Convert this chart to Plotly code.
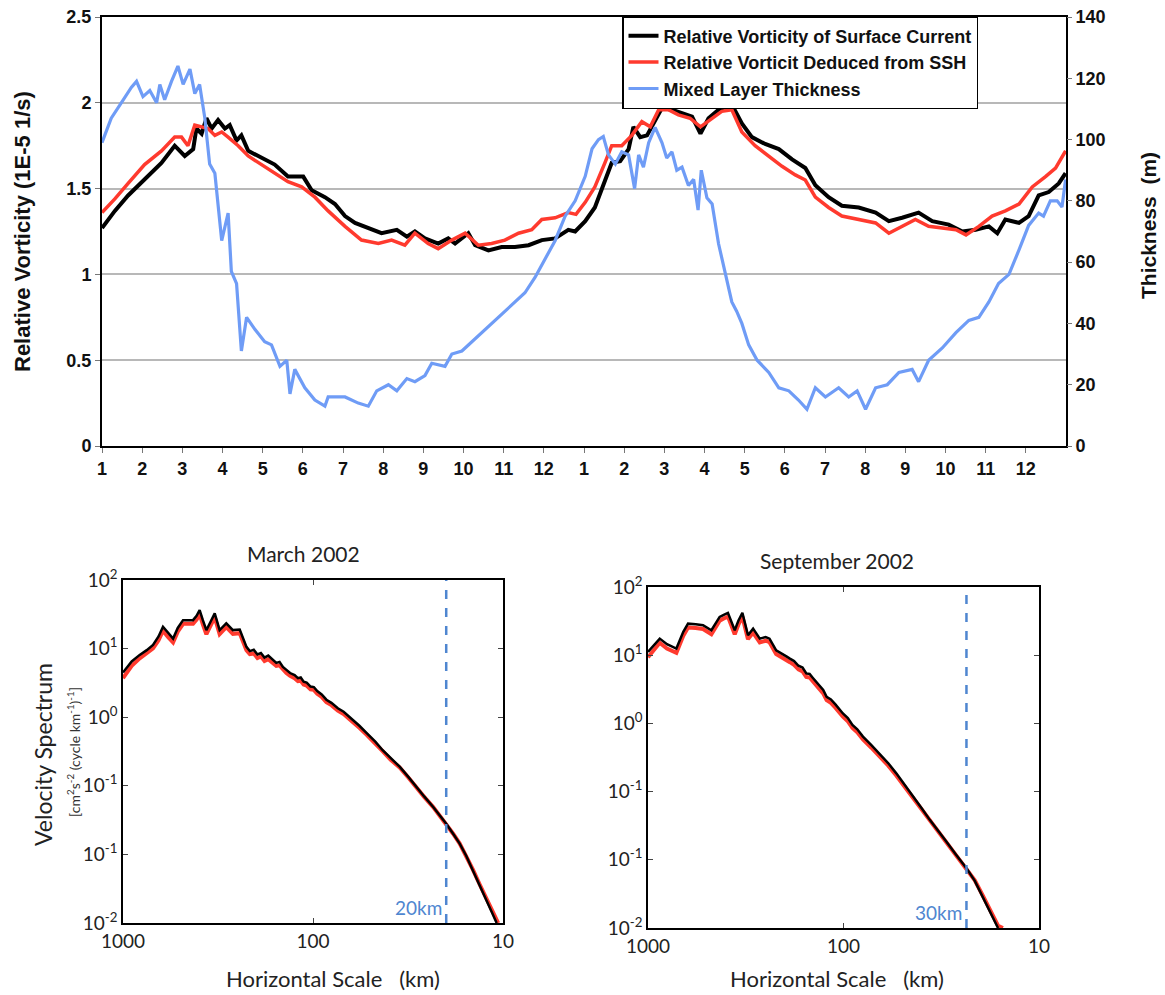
import plotly.graph_objects as go
import numpy as np

W, H = 1165, 995

# ---------------- Top panel data (month index 0..24) ----------------
month_ticks = list(range(24))
month_labels = [str(m) for m in range(1, 13)] * 2

t_black = [0.00, 0.32, 0.65, 1.06, 1.48, 1.81, 2.06, 2.27, 2.35, 2.48, 2.60, 2.73, 2.89, 3.06, 3.18, 3.35,
           3.47, 3.64, 3.97, 4.30, 4.63, 5.01, 5.22, 5.55, 5.80, 6.05, 6.30, 6.63, 6.96, 7.34, 7.59, 7.79,
           8.04, 8.37, 8.62, 8.79, 9.12, 9.29, 9.62, 9.95, 10.28, 10.62, 10.95, 11.28, 11.61, 11.78, 12.03,
           12.27, 12.52, 12.69, 12.90, 13.11, 13.23, 13.40, 13.57, 13.77, 13.94, 14.19, 14.44, 14.69, 14.90,
           15.10, 15.35, 15.68, 15.93, 16.18, 16.51, 16.85, 17.18, 17.51, 17.76, 18.09, 18.42, 18.84, 19.26,
           19.59, 19.92, 20.33, 20.67, 21.08, 21.42, 21.75, 22.08, 22.29, 22.49, 22.83, 23.07, 23.32, 23.57,
           23.82, 23.99]
v_black = [1.27, 1.37, 1.46, 1.55, 1.65, 1.75, 1.69, 1.73, 1.85, 1.82, 1.91, 1.85, 1.90, 1.85, 1.87, 1.78,
           1.81, 1.72, 1.68, 1.64, 1.57, 1.57, 1.49, 1.45, 1.41, 1.34, 1.30, 1.27, 1.24, 1.26, 1.22, 1.25,
           1.21, 1.18, 1.21, 1.18, 1.24, 1.17, 1.14, 1.16, 1.16, 1.17, 1.20, 1.21, 1.26, 1.25, 1.31,
           1.39, 1.55, 1.65, 1.66, 1.73, 1.86, 1.80, 1.81, 1.90, 1.97, 1.96, 1.94, 1.92, 1.82,
           1.91, 1.96, 1.99, 1.88, 1.80, 1.76, 1.73, 1.67, 1.62, 1.52, 1.45, 1.40, 1.39, 1.36,
           1.31, 1.33, 1.36, 1.31, 1.29, 1.25, 1.26, 1.28, 1.24, 1.32, 1.30, 1.34, 1.46, 1.48,
           1.53, 1.59]

t_red = [0.00, 0.32, 0.65, 1.06, 1.48, 1.81, 1.98, 2.14, 2.31, 2.48, 2.64, 2.81, 2.98, 3.14, 3.39, 3.64,
         3.97, 4.30, 4.63, 4.97, 5.30, 5.63, 6.05, 6.46, 6.88, 7.21, 7.54, 7.79, 8.12, 8.37, 8.71, 9.04,
         9.37, 9.70, 10.03, 10.37, 10.70, 10.95, 11.28, 11.61, 11.80, 12.03, 12.27, 12.52, 12.69, 12.94,
         13.19, 13.44, 13.65, 13.86, 14.10, 14.35, 14.64, 14.90, 15.14, 15.43, 15.68, 15.93, 16.26, 16.60,
         16.93, 17.26, 17.51, 17.76, 18.09, 18.42, 18.84, 19.26, 19.59, 19.92, 20.25, 20.58, 20.92, 21.26,
         21.51, 21.83, 22.16, 22.49, 22.83, 23.16, 23.49, 23.74, 23.99]
v_red = [1.36, 1.44, 1.53, 1.64, 1.72, 1.80, 1.80, 1.75, 1.87, 1.86, 1.85, 1.81, 1.83, 1.80, 1.75, 1.69,
         1.64, 1.59, 1.54, 1.51, 1.45, 1.37, 1.28, 1.20, 1.18, 1.20, 1.17, 1.24, 1.18, 1.15, 1.20, 1.24,
         1.17, 1.18, 1.20, 1.24, 1.26, 1.32, 1.33, 1.36, 1.35, 1.42, 1.51, 1.65, 1.75, 1.75,
         1.81, 1.89, 1.86, 1.96, 1.96, 1.93, 1.91, 1.86, 1.90, 1.95, 1.96, 1.83, 1.75, 1.69,
         1.63, 1.58, 1.55, 1.45, 1.39, 1.34, 1.32, 1.30, 1.24, 1.28, 1.32, 1.28, 1.27, 1.26,
         1.23, 1.28, 1.34, 1.37, 1.41, 1.51, 1.57, 1.62, 1.72]

t_blue = [0.00, 0.23, 0.48, 0.73, 0.86, 1.02, 1.19, 1.36, 1.44, 1.56, 1.73, 1.89, 2.02, 2.19, 2.31, 2.43,
          2.56, 2.68, 2.81, 2.98, 3.14, 3.22, 3.35, 3.47, 3.60, 3.81, 4.05, 4.22, 4.43, 4.60, 4.68, 4.80,
          5.05, 5.30, 5.55, 5.63, 6.05, 6.38, 6.63, 6.84, 7.13, 7.34, 7.59, 7.79, 8.04, 8.21, 8.54, 8.71,
          8.96, 9.29, 9.62, 9.95, 10.28, 10.53, 10.78, 11.03, 11.28, 11.53, 11.78, 12.03, 12.20, 12.36,
          12.48, 12.61, 12.78, 12.94, 13.11, 13.26, 13.36, 13.48, 13.61, 13.77, 13.94, 14.06, 14.19, 14.31,
          14.44, 14.60, 14.73, 14.84, 14.92, 15.06, 15.19, 15.35, 15.52, 15.68, 15.80, 15.93, 16.10, 16.31,
          16.60, 16.85, 17.10, 17.34, 17.55, 17.76, 18.01, 18.34, 18.59, 18.80, 19.01, 19.26, 19.55, 19.84,
          20.17, 20.33, 20.58, 20.92, 21.26, 21.58, 21.83, 22.08, 22.32, 22.58, 22.83, 23.07, 23.32, 23.44,
          23.61, 23.78, 23.90, 23.99]
m_blue = [99, 107, 112, 117, 119, 114, 116, 112, 118, 113, 119, 124, 118, 123, 115, 118,
          107, 92, 89, 67, 76, 57, 53, 31, 42, 38, 34, 33, 26, 28, 17, 25,
          19, 15, 13, 16, 16, 14, 13, 18, 20, 18, 22, 21, 23, 27, 26, 30,
          31, 35, 39, 43, 47, 50, 55, 61, 67, 75, 80, 88, 97, 100,
          101, 95, 92, 96, 95, 84, 95, 91, 99, 104, 99, 94, 96, 90,
          91, 85, 87, 77, 90, 81, 79, 66, 56, 47, 44, 40, 33, 28,
          24, 19, 18, 15, 12, 19, 16, 19, 16, 18, 12, 19, 20, 24,
          25, 21, 28, 32, 37, 41, 42, 47, 53, 56, 64, 72, 76, 75,
          80, 80, 78, 87]

# ---------------- Bottom panels data ----------------
km_mar_black = [1000, 900, 817, 750, 695, 650, 616, 580, 545, 515, 483, 455, 428, 410, 395, 380, 364, 345, 329,
                310, 298, 286, 264, 243, 224, 215, 205, 196, 188, 180, 172, 163, 156, 150, 144, 138, 132, 125,
                120, 116, 112, 108, 103, 99, 95, 90, 85, 80, 74, 69, 64, 60, 57,
                52, 47, 43, 39, 35, 31.5, 28.6, 26, 23.3, 21.5, 19.9, 18.3, 16.9, 15.6, 14.4, 13.3, 12.2,
                11.4, 10.8]
sp_mar_black = [4.5, 6.5, 8.1, 9.5, 11.3, 15, 20.8, 17, 14, 20, 26, 26, 26, 30, 36.5, 26, 18.6, 25, 32.6,
                18.6, 21, 23.3, 18.6, 19, 10.6, 9.2, 9.6, 8.2, 8.6, 7.4, 7.9, 7.0, 6.2, 6.4, 5.4, 4.9, 4.4,
                4.1, 3.7, 3.8, 3.3, 3.2, 2.8, 2.75, 2.4, 2.15, 1.8, 1.62, 1.35, 1.2, 1.0, 0.87, 0.75,
                0.58, 0.44, 0.33, 0.25, 0.19, 0.135, 0.096, 0.07, 0.049, 0.037, 0.028, 0.02,
                0.0144, 0.0095, 0.0059, 0.0036, 0.00214, 0.0014, 0.001]
km_mar_red = [1000, 900, 817, 750, 695, 650, 616, 580, 545, 515, 483, 455, 428, 410, 395, 380, 364, 345, 329,
              310, 298, 286, 264, 243, 224, 215, 205, 196, 188, 180, 172, 163, 156, 150, 144, 138, 132, 125,
              120, 116, 112, 108, 103, 99, 95, 90, 85, 80, 74, 69, 64, 60, 57,
              52, 47, 43, 39, 35, 31.5, 28.6, 26, 23.3, 21.5, 19.9, 18.3, 16.9, 15.6, 14.4, 13.3, 12.2,
              11.4, 10.6]
sp_mar_red = [3.7, 5.6, 7.2, 8.5, 10.1, 13.2, 18.2, 14.8, 12.3, 17.6, 23, 23, 23, 26.5, 32, 22.5, 16.2, 22,
              28.5, 16.3, 18.5, 20.5, 16.4, 16.8, 9.5, 8.3, 8.5, 7.3, 7.7, 6.6, 7.0, 6.3, 5.6, 5.7, 4.9,
              4.4, 4.0, 3.7, 3.35, 3.4, 3.0, 2.9, 2.55, 2.5, 2.2, 1.98, 1.66, 1.5, 1.25, 1.11, 0.93, 0.81,
              0.70, 0.55, 0.42, 0.32, 0.24, 0.185, 0.132, 0.094, 0.069, 0.049, 0.037,
              0.028, 0.02, 0.0144, 0.0095, 0.006, 0.0037, 0.0022, 0.00145, 0.001]

km_sep_black = [1000, 935, 871, 800, 716, 660, 624, 570, 523, 474, 450, 430, 410, 390, 360, 345, 329, 308,
                290, 268, 250, 239, 221, 205, 196, 188, 179, 170, 162, 155, 149, 143, 137, 132, 127, 122,
                116, 110, 105, 100.7, 95, 90, 85, 79.5, 72, 65.3,
                59, 53.7, 48.5, 44.2, 40, 36.2, 32.8, 29.8, 26.5, 23.5, 21.3, 19.4, 17.7, 16.2]
sp_sep_black = [11.2, 14, 17.5, 14.5, 12.5, 22, 29, 28.5, 27.5, 23.2, 30, 36.4, 39, 41.7, 23.2, 32, 41.7,
                19.6, 24.5, 17.5, 18.5, 17.5, 11.8, 10.5, 9.6, 8.9, 8.2, 7.0, 6.6, 5.4, 5.3, 4.6, 4.0,
                3.5, 3.1, 2.45, 2.25, 1.9, 1.62, 1.4, 1.2, 0.95, 0.82, 0.64, 0.48, 0.36,
                0.26, 0.185, 0.125, 0.0845, 0.058, 0.0385, 0.027, 0.0185, 0.0118,
                0.00755, 0.0049, 0.0029, 0.0017, 0.001]
km_sep_red = [1000, 935, 871, 800, 716, 660, 624, 570, 523, 474, 450, 430, 410, 390, 360, 345, 329, 308,
              290, 268, 250, 239, 221, 205, 196, 188, 179, 170, 162, 155, 149, 143, 137, 132, 127, 122,
              116, 110, 105, 100.7, 95, 90, 85, 79.5, 72, 65.3,
              59, 53.7, 48.5, 44.2, 40, 36.2, 32.8, 29.8, 26.5, 23.5, 21.3, 19.4, 17.7, 16.2, 15.3]
sp_sep_red = [9.3, 12, 15.2, 12.5, 10.8, 19.3, 25.5, 25, 24.2, 20.3, 26.4, 32, 34.5, 36.8, 20.2, 28, 36.5,
              17.2, 21.5, 15.4, 16.3, 15.5, 10.4, 9.3, 8.4, 7.9, 7.2, 6.2, 5.8, 4.8, 4.7, 4.1, 3.5,
              3.1, 2.75, 2.2, 2.0, 1.7, 1.44, 1.26, 1.07, 0.86, 0.74, 0.58, 0.44, 0.33,
              0.24, 0.172, 0.117, 0.08, 0.055, 0.037, 0.026, 0.018, 0.0116, 0.0076,
              0.005, 0.003, 0.00178, 0.00108, 0.001]

mar_cut_km = 19.9
sep_cut_km = 23.5
spec_yticks = [1e-3, 1e-2, 1e-1, 1, 10, 100]
spec_ytext = ["10<sup>-2</sup>", "10<sup>-1</sup>", "10<sup>-1</sup>", "10<sup>0</sup>", "10<sup>1</sup>", "10<sup>2</sup>"]
spec_xticks = [1000, 100, 10]
spec_xtext = ["1000", "100", "10"]

BLACK = "#000000"
RED = "#ff3a2e"
BLUE = "#6f9cf6"
DASH_BLUE = "#4f86d0"
ARIAL = "Liberation Sans, Arial, sans-serif"
SANS = "Lato, Open Sans, sans-serif"

fig = go.Figure()

# top traces
fig.add_trace(go.Scatter(x=t_black, y=v_black, mode="lines", name="Relative Vorticity of Surface Current",
                         line=dict(color=BLACK, width=4), xaxis="x", yaxis="y"))
fig.add_trace(go.Scatter(x=t_red, y=v_red, mode="lines", name="Relative Vorticit Deduced from SSH",
                         line=dict(color=RED, width=3.5), xaxis="x", yaxis="y"))
fig.add_trace(go.Scatter(x=t_blue, y=m_blue, mode="lines", name="Mixed Layer Thickness",
                         line=dict(color=BLUE, width=3.2), xaxis="x", yaxis="y2"))

# bottom-left
fig.add_trace(go.Scatter(x=km_mar_red, y=sp_mar_red, mode="lines", showlegend=False,
                         line=dict(color=RED, width=4), xaxis="x2", yaxis="y3"))
fig.add_trace(go.Scatter(x=km_mar_black, y=sp_mar_black, mode="lines", showlegend=False,
                         line=dict(color=BLACK, width=2.5), xaxis="x2", yaxis="y3"))
fig.add_trace(go.Scatter(x=[mar_cut_km, mar_cut_km], y=[1e-3, 1e2], mode="lines", showlegend=False,
                         line=dict(color=DASH_BLUE, width=2.5, dash="dash"), xaxis="x2", yaxis="y3"))
# bottom-right
fig.add_trace(go.Scatter(x=km_sep_red, y=sp_sep_red, mode="lines", showlegend=False,
                         line=dict(color=RED, width=4), xaxis="x3", yaxis="y4"))
fig.add_trace(go.Scatter(x=km_sep_black, y=sp_sep_black, mode="lines", showlegend=False,
                         line=dict(color=BLACK, width=2.5), xaxis="x3", yaxis="y4"))
fig.add_trace(go.Scatter(x=[sep_cut_km, sep_cut_km], y=[1e-3, 1e2], mode="lines", showlegend=False,
                         line=dict(color=DASH_BLUE, width=2.5, dash="dash"), xaxis="x3", yaxis="y4"))


def px(x):
    return x / W


def py(y):
    return 1 - y / H


top_tick_font = dict(family=ARIAL, size=18, color="#111", weight="bold")
bot_tick_font = dict(family=SANS, size=19, color="#222")

fig.update_layout(
    width=W, height=H,
    margin=dict(l=0, r=0, t=0, b=0, autoexpand=False),
    paper_bgcolor="white", plot_bgcolor="white",
    showlegend=True,
    legend=dict(x=px(622), y=py(16), xanchor="left", yanchor="top",
                bgcolor="white", bordercolor="black", borderwidth=1.5,
                font=dict(family=ARIAL, size=18, color="#111", weight="bold"),
                tracegroupgap=0, itemwidth=30),
    xaxis=dict(domain=[px(102), px(1066)], range=[0, 24], anchor="y", automargin=False,
               tickmode="array", tickvals=month_ticks, ticktext=month_labels,
               showline=True, linecolor="black", linewidth=2, mirror=True,
               ticks="outside", ticklen=5, tickcolor="#777", tickfont=top_tick_font,
               showgrid=False, zeroline=False),
    yaxis=dict(domain=[py(446), py(17)], range=[0, 2.5], dtick=0.5, anchor="x", automargin=False,
               showline=True, linecolor="black", linewidth=2, mirror=True,
               ticks="outside", ticklen=5, tickcolor="#777", tickfont=top_tick_font,
               showgrid=True, gridcolor="#b8b8b8", gridwidth=2, zeroline=False),
    yaxis2=dict(overlaying="y", side="right", range=[0, 140], dtick=20, anchor="x", automargin=False,
                showline=False, ticks="outside", ticklen=5, tickcolor="#777",
                tickfont=top_tick_font, showgrid=False, zeroline=False),
    xaxis2=dict(domain=[px(123), px(503)], type="log", range=[3, 1], anchor="y3", automargin=False,
                tickmode="array", tickvals=spec_xticks, ticktext=spec_xtext,
                showline=True, linecolor="black", linewidth=1.5, mirror="ticks",
                ticks="inside", ticklen=5, tickfont=bot_tick_font, showgrid=False, zeroline=False),
    yaxis3=dict(domain=[py(923), py(580)], type="log", range=[-3, 2], anchor="x2", automargin=False,
                tickmode="array", tickvals=spec_yticks, ticktext=spec_ytext,
                showline=True, linecolor="black", linewidth=1.5, mirror="ticks",
                ticks="inside", ticklen=5, tickfont=bot_tick_font, showgrid=False, zeroline=False),
    xaxis3=dict(domain=[px(648), px(1039)], type="log", range=[3, 1], anchor="y4", automargin=False,
                tickmode="array", tickvals=spec_xticks, ticktext=spec_xtext,
                showline=True, linecolor="black", linewidth=1.5, mirror="ticks",
                ticks="inside", ticklen=5, tickfont=bot_tick_font, showgrid=False, zeroline=False),
    yaxis4=dict(domain=[py(928), py(587)], type="log", range=[-3, 2], anchor="x3", automargin=False,
                tickmode="array", tickvals=spec_yticks, ticktext=spec_ytext,
                showline=True, linecolor="black", linewidth=1.5, mirror="ticks",
                ticks="inside", ticklen=5, tickfont=bot_tick_font, showgrid=False, zeroline=False),
)

ann = []
# top axis titles
ann.append(dict(text="Relative Vorticity (1E-5 1/s)", x=px(23), y=py(232), xref="paper", yref="paper",
                textangle=-90, showarrow=False, xanchor="center", yanchor="middle",
                font=dict(family=ARIAL, size=22, color="#111", weight="bold")))
ann.append(dict(text="Thickness\u00a0\u00a0(m)", x=px(1148), y=py(226), xref="paper", yref="paper",
                textangle=-90, showarrow=False, xanchor="center", yanchor="middle",
                font=dict(family=ARIAL, size=21, color="#111", weight="bold")))
# bottom titles
ann.append(dict(text="March 2002", x=px(303), y=py(553), xref="paper", yref="paper", showarrow=False,
                xanchor="center", yanchor="middle", font=dict(family=SANS, size=21, color="#222")))
ann.append(dict(text="September 2002", x=px(837), y=py(560), xref="paper", yref="paper", showarrow=False,
                xanchor="center", yanchor="middle", font=dict(family=SANS, size=21, color="#222")))
for cx in (333, 837):
    ann.append(dict(text="Horizontal Scale\u00a0\u00a0\u00a0(km)", x=px(cx), y=py(978), xref="paper",
                    yref="paper", showarrow=False, xanchor="center", yanchor="middle",
                    font=dict(family=SANS, size=22, color="#222")))
ann.append(dict(text="Velocity Spectrum", x=px(43), y=py(755), xref="paper", yref="paper",
                textangle=-90, showarrow=False, xanchor="center", yanchor="middle",
                font=dict(family=SANS, size=23, color="#222")))
ann.append(dict(text="[cm<sup>2</sup>s<sup>-2</sup> (cycle km<sup>-1</sup>)<sup>-1</sup>]", x=px(73), y=py(752),
                xref="paper", yref="paper", textangle=-90, showarrow=False, xanchor="center",
                yanchor="middle", font=dict(family=SANS, size=14, color="#333")))
# cut-off labels
ann.append(dict(text="20km", x=np.log10(mar_cut_km), y=0.0, xref="x2", yref="y3 domain", showarrow=False,
                xanchor="right", yanchor="bottom", xshift=-2, yshift=2,
                font=dict(family=SANS, size=19, color=DASH_BLUE)))
ann.append(dict(text="30km", x=np.log10(sep_cut_km), y=0.0, xref="x3", yref="y4 domain", showarrow=False,
                xanchor="right", yanchor="bottom", xshift=-2, yshift=2,
                font=dict(family=SANS, size=19, color=DASH_BLUE)))
fig.update_layout(annotations=ann)

fig.write_html("out.html",
               config={"displayModeBar": False},
               post_script="document.body.style.margin='0';document.body.style.padding='0';")
